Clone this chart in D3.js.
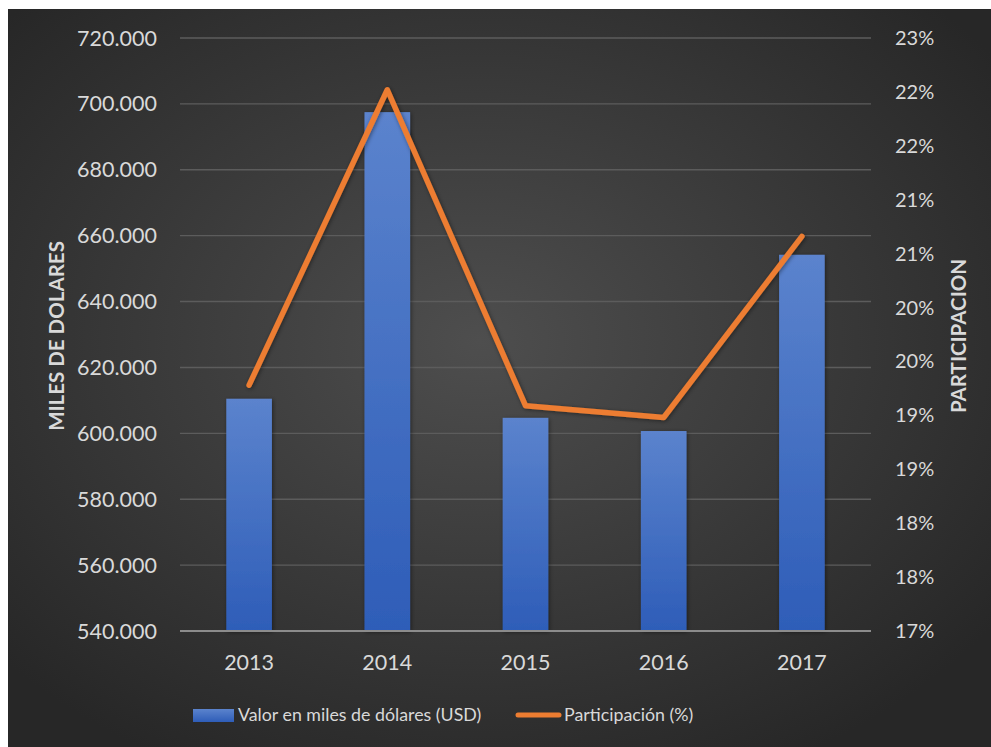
<!DOCTYPE html>
<html>
<head>
<meta charset="utf-8">
<script src="https://cdn.jsdelivr.net/npm/d3@7"></script>
<style>
  body { margin: 0; background: #fff; }
  text { font-family: Lato, "Open Sans", sans-serif; }
</style>
</head>
<body>
<svg id="chart" width="991" height="747"></svg>
<script>
// chart data
const years = ["2013", "2014", "2015", "2016", "2017"];
const valorUSD = [610.5, 697.5, 604.7, 600.7, 654.2];   // miles de dolares (x1000)
const participacion = [19.28, 22.02, 19.09, 18.98, 20.66]; // %
const leftTicks = [540, 560, 580, 600, 620, 640, 660, 680, 700, 720];
const rightTicks = [17, 17.5, 18, 18.5, 19, 19.5, 20, 20.5, 21, 21.5, 22, 22.5];

const svg = d3.select("#chart");
const W = 991, H = 747;

// background
let defs = svg.append("defs");
let bg = defs.append("radialGradient").attr("id", "bg")
  .attr("cx", "48%").attr("cy", "45%").attr("r", "65%");
bg.append("stop").attr("offset", "0%").attr("stop-color", "#4e4e4e");
bg.append("stop").attr("offset", "100%").attr("stop-color", "#272727");

let barGrad = defs.append("linearGradient").attr("id", "barGrad")
  .attr("x1", 0).attr("y1", 0).attr("x2", 0).attr("y2", 1);
barGrad.append("stop").attr("offset", "0%").attr("stop-color", "#5b83cd");
barGrad.append("stop").attr("offset", "100%").attr("stop-color", "#2e5db8");

let shadow = defs.append("filter").attr("id", "shadow")
  .attr("x", "-20%").attr("y", "-20%").attr("width", "150%").attr("height", "150%");
shadow.append("feDropShadow").attr("dx", 1).attr("dy", 1).attr("stdDeviation", 2)
  .attr("flood-color", "#000").attr("flood-opacity", 0.45);

svg.append("rect").attr("x", 8).attr("y", 9).attr("width", W - 8).attr("height", H - 9)
  .attr("fill", "url(#bg)");

const plot = { left: 180, right: 871, top: 38, bottom: 631 };

const x = d3.scaleBand().domain(years).range([plot.left, plot.right]).paddingInner(0.67).paddingOuter(0.335);
const yL = d3.scaleLinear().domain([540, 720]).range([plot.bottom, plot.top]);
const yR = d3.scaleLinear().domain([17, 22.5]).range([plot.bottom, plot.top]);

// gridlines
svg.append("g")
  .selectAll("line")
  .data(leftTicks.slice(1))
  .join("line")
  .attr("x1", plot.left).attr("x2", plot.right)
  .attr("y1", d => yL(d)).attr("y2", d => yL(d))
  .attr("stroke", "#5c5c5c").attr("stroke-width", 1.4);

// left axis labels
svg.append("g")
  .selectAll("text")
  .data(leftTicks)
  .join("text")
  .attr("x", 157).attr("y", d => yL(d))
  .attr("dy", "0.35em")
  .attr("text-anchor", "end")
  .attr("fill", "#d9d9d9").attr("font-size", 21.5)
  .text(d => d + ".000");

// right axis labels
svg.append("g")
  .selectAll("text")
  .data(rightTicks)
  .join("text")
  .attr("x", 895).attr("y", d => yR(d))
  .attr("dy", "0.35em")
  .attr("text-anchor", "start")
  .attr("fill", "#d9d9d9").attr("font-size", 20)
  .text(d => Math.round(d + 1e-9) + "%");

// bars
svg.append("g")
  .selectAll("rect")
  .data(valorUSD)
  .join("rect")
  .attr("x", (d, i) => x(years[i]))
  .attr("y", d => yL(d))
  .attr("width", x.bandwidth())
  .attr("height", d => yL(540) - yL(d))
  .attr("fill", "url(#barGrad)")
  .attr("filter", "url(#shadow)");

// baseline
svg.append("line")
  .attr("x1", plot.left).attr("x2", plot.right)
  .attr("y1", plot.bottom).attr("y2", plot.bottom)
  .attr("stroke", "#8c8c8c").attr("stroke-width", 2);

// x labels
svg.append("g")
  .selectAll("text")
  .data(years)
  .join("text")
  .attr("x", d => x(d) + x.bandwidth() / 2)
  .attr("y", 662)
  .attr("dy", "0.35em")
  .attr("text-anchor", "middle")
  .attr("fill", "#d9d9d9").attr("font-size", 21.5)
  .text(d => d);

// line
let line = d3.line()
  .x((d, i) => x(years[i]) + x.bandwidth() / 2)
  .y(d => yR(d));
svg.append("path")
  .datum(participacion)
  .attr("d", line)
  .attr("fill", "none")
  .attr("stroke", "#ed7d31")
  .attr("stroke-width", 5.5)
  .attr("stroke-linejoin", "round")
  .attr("stroke-linecap", "round")
  .attr("filter", "url(#shadow)");

// axis titles
svg.append("text")
  .attr("transform", "translate(57,336) rotate(-90)")
  .attr("dy", "0.35em")
  .attr("text-anchor", "middle")
  .attr("fill", "#d9d9d9").attr("font-size", 20.5).attr("font-weight", "bold")
  .text("MILES DE DOLARES");
svg.append("text")
  .attr("transform", "translate(959,336) rotate(-90)")
  .attr("dy", "0.35em")
  .attr("text-anchor", "middle")
  .attr("fill", "#d9d9d9").attr("font-size", 20.5).attr("font-weight", "bold")
  .text("PARTICIPACION");

// legend
let leg = svg.append("g");
leg.append("rect").attr("x", 193).attr("y", 709).attr("width", 41).attr("height", 13)
  .attr("fill", "url(#barGrad)");
leg.append("text").attr("x", 238).attr("y", 715).attr("dy", "0.35em")
  .attr("fill", "#d9d9d9").attr("font-size", 17.8)
  .text("Valor en miles de dólares (USD)");
leg.append("line").attr("x1", 518).attr("x2", 559).attr("y1", 715).attr("y2", 715)
  .attr("stroke", "#ed7d31").attr("stroke-width", 5).attr("stroke-linecap", "round");
leg.append("text").attr("x", 564).attr("y", 715).attr("dy", "0.35em")
  .attr("fill", "#d9d9d9").attr("font-size", 17.8)
  .text("Participación (%)");
</script>
</body>
</html>
